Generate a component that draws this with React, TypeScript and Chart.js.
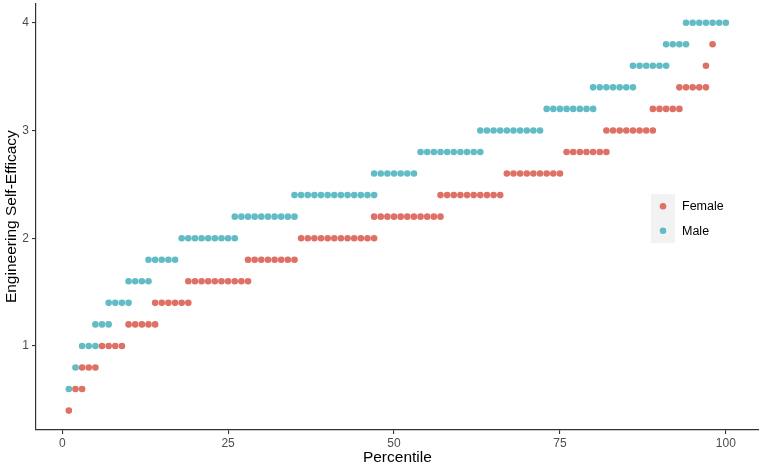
import React, { useEffect, useRef } from "react";
import { Chart, registerables } from "chart.js";

Chart.register(...registerables);

// Levels of Engineering Self-Efficacy and the percentiles (per gender) at which a dot appears
const femaleLevels = [0.4, 0.6, 0.8, 1.0, 1.2, 1.4, 1.6, 1.8, 2.0, 2.2, 2.4, 2.6, 2.8, 3.0, 3.2, 3.4, 3.6, 3.8];
const femalePercentiles = [
  [1],
  [2, 3],
  [3, 4, 5],
  [6, 7, 8, 9],
  [10, 11, 12, 13, 14],
  [14, 15, 16, 17, 18, 19],
  [19, 20, 21, 22, 23, 24, 25, 26, 27, 28],
  [28, 29, 30, 31, 32, 33, 34, 35],
  [36, 37, 38, 39, 40, 41, 42, 43, 44, 45, 46, 47],
  [47, 48, 49, 50, 51, 52, 53, 54, 55, 56, 57],
  [57, 58, 59, 60, 61, 62, 63, 64, 65, 66],
  [67, 68, 69, 70, 71, 72, 73, 74, 75],
  [76, 77, 78, 79, 80, 81, 82],
  [82, 83, 84, 85, 86, 87, 88, 89],
  [89, 90, 91, 92, 93],
  [93, 94, 95, 96, 97],
  [97],
  [98],
];

const maleLevels = [0.6, 0.8, 1.0, 1.2, 1.4, 1.6, 1.8, 2.0, 2.2, 2.4, 2.6, 2.8, 3.0, 3.2, 3.4, 3.6, 3.8, 4.0];
const malePercentiles = [
  [1],
  [2],
  [3, 4, 5],
  [5, 6, 7],
  [7, 8, 9, 10],
  [10, 11, 12, 13],
  [13, 14, 15, 16, 17],
  [18, 19, 20, 21, 22, 23, 24, 25, 26],
  [26, 27, 28, 29, 30, 31, 32, 33, 34, 35],
  [35, 36, 37, 38, 39, 40, 41, 42, 43, 44, 45, 46, 47],
  [47, 48, 49, 50, 51, 52, 53],
  [54, 55, 56, 57, 58, 59, 60, 61, 62, 63],
  [63, 64, 65, 66, 67, 68, 69, 70, 71, 72],
  [73, 74, 75, 76, 77, 78, 79, 80],
  [80, 81, 82, 83, 84, 85, 86],
  [86, 87, 88, 89, 90, 91],
  [91, 92, 93, 94],
  [94, 95, 96, 97, 98, 99, 100],
];

const xTicks = [0, 25, 50, 75, 100];
const yTicks = [1, 2, 3, 4];
const seriesNames = ["Female", "Male"];
const seriesColors = ["#DE7066", "#62BCC6"];

const FONT = "'Liberation Sans', Arial, Helvetica, sans-serif";

function toPoints(levels: number[], pcts: number[][]) {
  const pts: { x: number; y: number }[] = [];
  levels.forEach((lv, i) => pcts[i].forEach((p) => pts.push({ x: p, y: lv })));
  return pts;
}

const legendPlugin = {
  id: "ggLegend",
  afterDraw(chart: any) {
    const ctx = chart.ctx;
    ctx.save();
    const left = 651;
    const top = 194;
    const keyW = 24;
    const keyH = 24.5;
    ctx.fillStyle = "#F2F2F2";
    ctx.fillRect(left, top, keyW, keyH * 2);
    seriesNames.forEach((name, i) => {
      const cy = top + keyH * i + keyH / 2;
      ctx.beginPath();
      ctx.fillStyle = seriesColors[i];
      ctx.arc(left + keyW / 2, cy, 3.3, 0, Math.PI * 2);
      ctx.fill();
      ctx.fillStyle = "#000000";
      ctx.font = `12.5px ${FONT}`;
      ctx.textAlign = "left";
      ctx.textBaseline = "middle";
      ctx.fillText(name, 682, cy + 0.5);
    });
    ctx.restore();
  },
};

export default function App() {
  const ref = useRef<HTMLCanvasElement | null>(null);

  useEffect(() => {
    document.body.style.margin = "0";
    const canvas = ref.current;
    if (!canvas) return;
    const chart = new Chart(canvas, {
      type: "scatter",
      data: {
        datasets: [
          {
            label: seriesNames[0],
            data: toPoints(femaleLevels, femalePercentiles),
            backgroundColor: seriesColors[0],
            borderWidth: 0,
            pointRadius: 3.3,
            pointHoverRadius: 3.3,
          },
          {
            label: seriesNames[1],
            data: toPoints(maleLevels, malePercentiles),
            backgroundColor: seriesColors[1],
            borderWidth: 0,
            pointRadius: 3.3,
            pointHoverRadius: 3.3,
          },
        ],
      },
      options: {
        responsive: false,
        animation: false,
        devicePixelRatio: 1,
        layout: { padding: { top: 3, right: 1, left: 0, bottom: 0 } },
        plugins: {
          legend: { display: false },
          tooltip: { enabled: false },
        },
        scales: {
          x: {
            type: "linear",
            position: "bottom",
            min: -3.95,
            max: 104.95,
            afterFit: (s: any) => {
              s.height = 35;
              s.paddingLeft = 0;
              s.paddingRight = 0;
            },
            afterBuildTicks: (s: any) => {
              s.ticks = xTicks.map((v) => ({ value: v }));
            },
            ticks: {
              color: "#4D4D4D",
              font: { family: FONT, size: 12 },
              padding: 2,
              maxRotation: 0,
              autoSkip: false,
            },
            grid: {
              drawOnChartArea: false,
              drawTicks: true,
              tickLength: 4,
              color: "#333333",
              lineWidth: 1.1,
            },
            border: { display: true, color: "#333333", width: 1.2 },
            title: {
              display: true,
              text: "Percentile",
              color: "#000000",
              font: { family: FONT, size: 15.5, lineHeight: 1 },
              padding: { top: 0, bottom: 0 },
            },
          },
          y: {
            type: "linear",
            position: "left",
            min: 0.22,
            max: 4.18,
            afterFit: (s: any) => {
              s.width = 36;
              s.paddingTop = 0;
              s.paddingBottom = 0;
            },
            afterBuildTicks: (s: any) => {
              s.ticks = yTicks.map((v) => ({ value: v }));
            },
            ticks: {
              color: "#4D4D4D",
              font: { family: FONT, size: 12 },
              padding: 3,
            },
            grid: {
              drawOnChartArea: false,
              drawTicks: true,
              tickLength: 4,
              color: "#333333",
              lineWidth: 1.1,
            },
            border: { display: true, color: "#333333", width: 1.2 },
            title: {
              display: true,
              text: "Engineering Self-Efficacy",
              color: "#000000",
              font: { family: FONT, size: 15.5, lineHeight: 1 },
              padding: { top: 4, bottom: 0 },
            },
          },
        },
      },
      plugins: [legendPlugin],
    } as any);
    return () => chart.destroy();
  }, []);

  return (
    <canvas
      ref={ref}
      width={762}
      height={465}
      style={{ display: "block", width: "762px", height: "465px" }}
    />
  );
}
